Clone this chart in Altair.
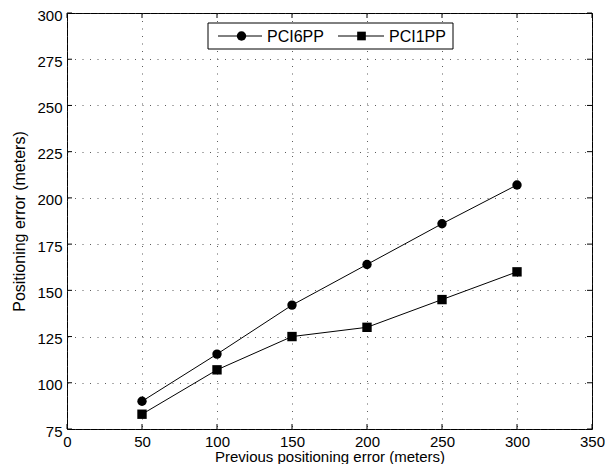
import altair as alt
import pandas as pd

# ---- data ----
prev_error = [50, 100, 150, 200, 250, 300]
pci6pp = [90.0, 115.5, 142.0, 164.0, 186.0, 207.0]
pci1pp = [83.0, 107.0, 125.0, 130.0, 145.0, 160.0]
series_names = ["PCI6PP", "PCI1PP"]
x_ticks = [0, 50, 100, 150, 200, 250, 300, 350]
y_ticks = [75, 100, 125, 150, 175, 200, 225, 250, 275, 300]

rows = []
for name, vals in zip(series_names, [pci6pp, pci1pp]):
    for xv, yv in zip(prev_error, vals):
        rows.append({"x": xv, "y": yv, "series": name})
df = pd.DataFrame(rows)
xt = pd.DataFrame({"x": x_ticks})
yt = pd.DataFrame({"y": y_ticks})
one = pd.DataFrame({"k": [0]})

W, H = 525, 416
FONT = "Liberation Sans"

xscale = alt.Scale(domain=[0, 350], nice=False, zero=False)
yscale = alt.Scale(domain=[75, 300], nice=False, zero=False)
xaxis = alt.Axis(values=x_ticks, title="Previous positioning error (meters)", grid=True,
                 domain=False, ticks=False, labelPadding=5,
                 titleY=32.5, titleBaseline="alphabetic", titleFontSize=15,
                 labelFlush=False)
yaxis = alt.Axis(values=y_ticks, title="Positioning error (meters)", grid=True,
                 domain=False, ticks=False, labelPadding=5, titlePadding=9,
                 titleFontSize=16, labelFlush=False, labelOffset=2)
X = alt.X("x:Q", scale=xscale, axis=xaxis)
Y = alt.Y("y:Q", scale=yscale, axis=yaxis)

shape_scale = alt.Scale(domain=series_names, range=["circle", "square"])

lines = alt.Chart(df).mark_line(color="black", strokeWidth=1).encode(
    x=X, y=Y, detail="series:N")
points = alt.Chart(df).mark_point(filled=True, color="black", opacity=1, size=88).encode(
    x=X, y=Y, shape=alt.Shape("series:N", scale=shape_scale, legend=None))

tick_b = alt.Chart(xt).mark_rule(color="black", strokeWidth=1).encode(
    x=X, y=alt.value(H), y2=alt.value(H - 5))
tick_t = alt.Chart(xt).mark_rule(color="black", strokeWidth=1).encode(
    x=X, y=alt.value(0), y2=alt.value(5))
tick_l = alt.Chart(yt).mark_rule(color="black", strokeWidth=1).encode(
    y=Y, x=alt.value(0), x2=alt.value(5))
tick_r = alt.Chart(yt).mark_rule(color="black", strokeWidth=1).encode(
    y=Y, x=alt.value(W - 5), x2=alt.value(W))

# ---- legend box ----
LY = 23
box = alt.Chart(one).mark_rect(fill="white", stroke="black", strokeWidth=1).encode(
    x=alt.value(141), x2=alt.value(386), y=alt.value(10), y2=alt.value(36))
leg1_line = alt.Chart(one).mark_rule(color="black", strokeWidth=1).encode(
    x=alt.value(151), x2=alt.value(195), y=alt.value(LY))
leg1_pt = alt.Chart(one).mark_point(filled=True, color="black", opacity=1, size=88,
                                    shape="circle").encode(
    x=alt.value(174.5), y=alt.value(LY))
leg1_txt = alt.Chart(one).mark_text(align="left", baseline="middle", font=FONT,
                                    fontSize=16, color="black").encode(
    x=alt.value(200), y=alt.value(LY + 0.5), text=alt.value(series_names[0]))
leg2_line = alt.Chart(one).mark_rule(color="black", strokeWidth=1).encode(
    x=alt.value(271), x2=alt.value(317), y=alt.value(LY))
leg2_pt = alt.Chart(one).mark_point(filled=True, color="black", opacity=1, size=75,
                                    shape="square").encode(
    x=alt.value(294.5), y=alt.value(LY))
leg2_txt = alt.Chart(one).mark_text(align="left", baseline="middle", font=FONT,
                                    fontSize=16, color="black").encode(
    x=alt.value(322), y=alt.value(LY + 0.5), text=alt.value(series_names[1]))

chart = alt.layer(
    lines, points, tick_b, tick_t, tick_l, tick_r,
    box, leg1_line, leg1_pt, leg1_txt, leg2_line, leg2_pt, leg2_txt
).properties(
    width=W, height=H,
    autosize=alt.AutoSizeParams(type="none"),
    padding={"left": 59, "top": 5, "right": 13, "bottom": 35},
    background="white",
).configure_view(
    stroke="black", strokeWidth=1
).configure_axis(
    labelFont=FONT, titleFont=FONT, labelFontSize=15,
    labelColor="black", titleColor="black", titleFontWeight="normal",
    gridColor="#333333", gridDash=[1, 6.5], gridWidth=1, gridOpacity=0.8,
)

chart.save("out.html", embed_options={"renderer": "svg", "actions": False})
